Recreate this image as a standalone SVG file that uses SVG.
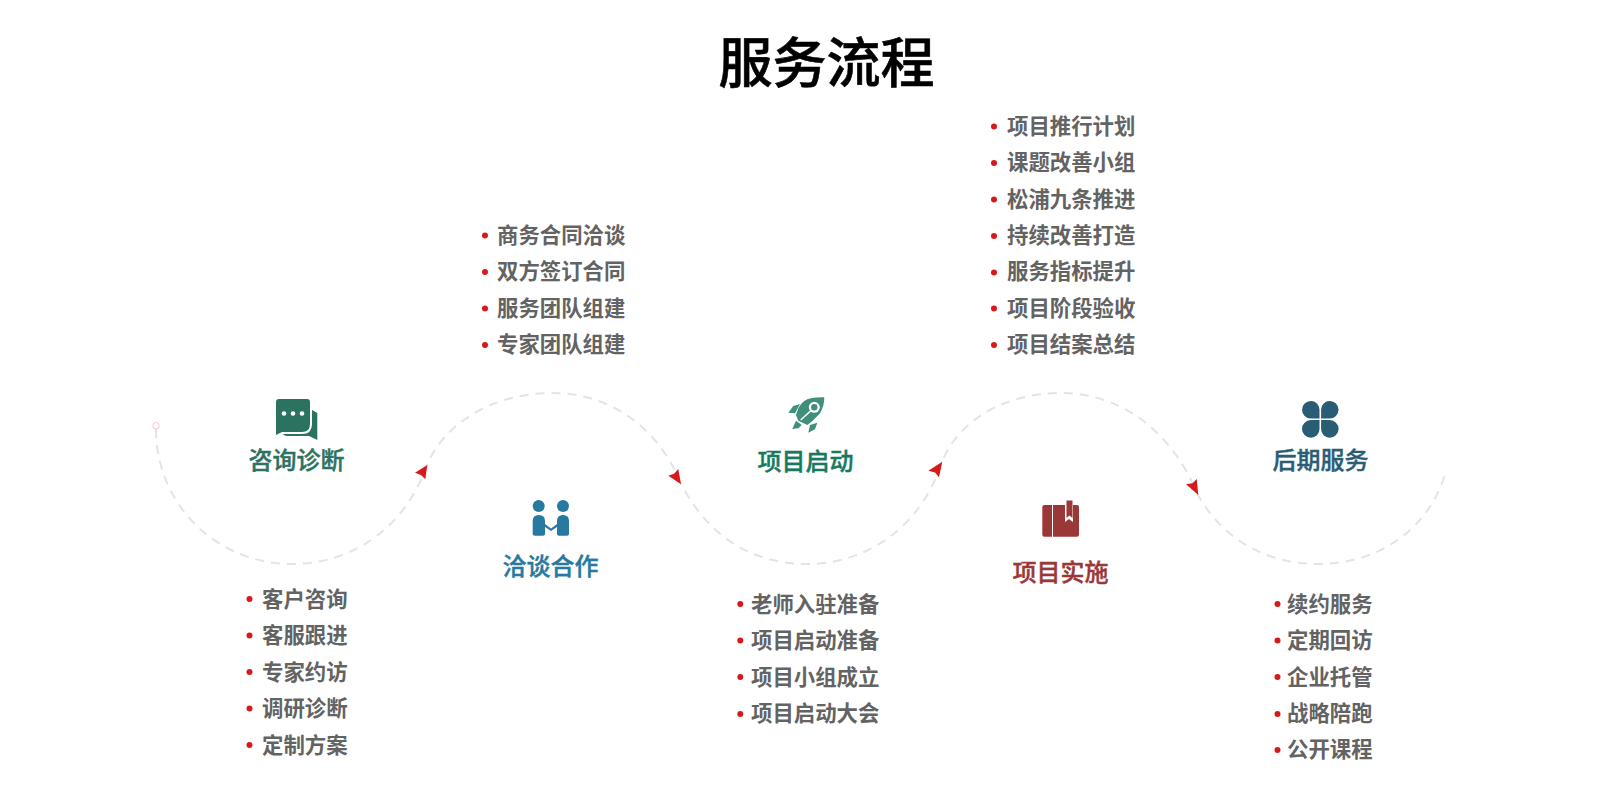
<svg xmlns="http://www.w3.org/2000/svg" width="1600" height="806" viewBox="0 0 1600 806">
<style>
text{font-family:"Noto Sans CJK SC","Noto Sans",sans-serif}
.title{font-size:54px;font-weight:500;fill:#000;stroke:#000;stroke-width:.6;text-anchor:middle}
.head{font-size:24px;font-weight:500;stroke-width:.4;text-anchor:middle}
.item{font-size:21.400px;font-weight:700;fill:#636363}
.dot{fill:#d7191c}
.wave{fill:none;stroke:#e4e4e4;stroke-width:2;stroke-dasharray:9 7}
.arrow{fill:#d7191c}
</style>
<rect width="1600" height="806" fill="#fff"/>
<text class="title" x="826.500" y="83">服务流程</text>
<g id="connectors">
<path class="wave" d="M156 429C156 505 217 564 292 564C352 564 405 528 427 465C445 422 495 393 552 393C612 393 660 430 681 484C708 535 750 564 807 564C866 564 920 528 941 464C958 420 1005 393 1061 393C1122 393 1172 432 1198 495C1222 538 1265 564 1318 564C1380 564 1430 528 1446 471"/>
<circle cx="156" cy="425.700" r="3.200" fill="#fff" stroke="#f6c6cc" stroke-width="1"/>
<path class="arrow" d="M427.300 465L415 472.700L421 475L425.300 479.300Z"/>
<path class="arrow" d="M681 484.300L668.300 475.700L674 473.800L678.300 469Z"/>
<path class="arrow" d="M942.300 461.700L928.300 470.700L935 472.500L939 477.300Z"/>
<path class="arrow" d="M1198.300 495L1186 484.300L1192.500 483.200L1196.700 479Z"/>
</g>
<g id="node1">
<path fill="#2c7261" d="M279 399H307Q310 399 310 402V424Q310 432 302 432H282L276 435V402Q276 399 279 399Z"/>
<path fill="#2c7261" d="M312 410L317.300 413V440L309 436H289Q284 436 283 434H302Q312 434 312 424Z"/>
<circle cx="284" cy="413.500" r="2.300" fill="#fff"/>
<circle cx="293" cy="413.500" r="2.300" fill="#fff"/>
<circle cx="302" cy="413.500" r="2.300" fill="#fff"/>
<text class="head" x="296.500" y="469" fill="#2c7261" stroke="#2c7261">咨询诊断</text>
<circle class="dot" cx="249.500" cy="599" r="3"/><text class="item" x="262" y="606.500">客户咨询</text>
<circle class="dot" cx="249.500" cy="635.500" r="3"/><text class="item" x="262" y="643">客服跟进</text>
<circle class="dot" cx="249.500" cy="672" r="3"/><text class="item" x="262" y="679.500">专家约访</text>
<circle class="dot" cx="249.500" cy="708.500" r="3"/><text class="item" x="262" y="716">调研诊断</text>
<circle class="dot" cx="249.500" cy="745" r="3"/><text class="item" x="262" y="752.500">定制方案</text>
</g>
<g id="node2">
<circle cx="538.700" cy="506" r="6" fill="#28799f"/>
<circle cx="563" cy="506" r="6" fill="#28799f"/>
<path fill="#28799f" d="M532.700 534V521Q532.700 515 538.700 515Q545 515 545 521V524L551 528.500L557 524V521Q557 515 563 515Q569 515 569 521V534Q569 535.700 567 535.700H559Q557 535.700 557 534V527L551 531L545 527V534Q545 535.700 543 535.700H535Q532.700 535.700 532.700 534Z"/>
<text class="head" x="550.500" y="575" fill="#28799f" stroke="#28799f">洽谈合作</text>
<circle class="dot" cx="485" cy="235.500" r="3"/><text class="item" x="497" y="242.700">商务合同洽谈</text>
<circle class="dot" cx="485" cy="272" r="3"/><text class="item" x="497" y="279">双方签订合同</text>
<circle class="dot" cx="485" cy="308.500" r="3"/><text class="item" x="497" y="315.500">服务团队组建</text>
<circle class="dot" cx="485" cy="345" r="3"/><text class="item" x="497" y="352">专家团队组建</text>
</g>
<g id="node3">
<path fill="#3f8f7c" d="M824.300 397.300C816 397.300 811 398 807.300 399.300C803 401 800 405 798.300 408.300L796 415L798.300 420.700L807.300 425L812.700 420.700L820 413.300C823 408 824.300 403 824.300 397.300Z"/>
<circle cx="814.300" cy="407.300" r="5.500" fill="#fff"/>
<circle cx="814.300" cy="407.300" r="3.200" fill="#3f8f7c"/>
<path d="M810.500 411L800.700 420" stroke="#fff" stroke-width="1.500"/>
<path fill="#3f8f7c" d="M788.300 412.700L793.300 406L800 404L795 413.300ZM808.300 432.700L810 425L817.300 422.700L815 429.300ZM792.300 429L796 420.700L801.700 425L798.300 428.300Z"/>
<text class="head" x="805.500" y="470" fill="#17795f" stroke="#17795f">项目启动</text>
<circle class="dot" cx="740.300" cy="604" r="3"/><text class="item" x="751" y="611.800">老师入驻准备</text>
<circle class="dot" cx="740.300" cy="640.500" r="3"/><text class="item" x="751" y="648.300">项目启动准备</text>
<circle class="dot" cx="740.300" cy="677" r="3"/><text class="item" x="751" y="684.500">项目小组成立</text>
<circle class="dot" cx="740.300" cy="714" r="3"/><text class="item" x="751" y="721.200">项目启动大会</text>
</g>
<g id="node4">
<path fill="#9a3838" d="M1044.300 505H1052V536.700H1044.300Q1042.300 536.700 1042.300 534.700V507Q1042.300 505 1044.300 505Z"/>
<path fill="#9a3838" d="M1053 505H1065V522L1069 519L1073 522V505H1077Q1079 505 1079 507V534.700Q1079 536.700 1077 536.700H1053Z"/>
<path fill="#9a3838" d="M1066.500 500.500H1072.500V518L1069.500 515.500L1066.500 518Z"/>
<text class="head" x="1060.500" y="580.500" fill="#9a3838" stroke="#9a3838">项目实施</text>
<circle class="dot" cx="994" cy="126.500" r="3"/><text class="item" x="1007" y="133.500">项目推行计划</text>
<circle class="dot" cx="994" cy="163" r="3"/><text class="item" x="1007" y="170">课题改善小组</text>
<circle class="dot" cx="994" cy="199.500" r="3"/><text class="item" x="1007" y="206.500">松浦九条推进</text>
<circle class="dot" cx="994" cy="236" r="3"/><text class="item" x="1007" y="243">持续改善打造</text>
<circle class="dot" cx="994" cy="272.500" r="3"/><text class="item" x="1007" y="279.300">服务指标提升</text>
<circle class="dot" cx="994" cy="308.500" r="3"/><text class="item" x="1007" y="315.500">项目阶段验收</text>
<circle class="dot" cx="994" cy="345" r="3"/><text class="item" x="1007" y="352">项目结案总结</text>
</g>
<g id="node5">
<path fill="#2a5d75" d="M1310.800 401A8.500 8.500 0 0 1 1319.500 409.500V418.500H1310.800A8.750 8.750 0 0 1 1310.800 401ZM1329.800 401A8.500 8.500 0 0 0 1321.100 409.500V418.500H1329.800A8.750 8.750 0 0 0 1329.800 401ZM1310.800 437.700A8.500 8.500 0 0 0 1319.500 429V420.100H1310.800A8.800 8.800 0 0 0 1310.800 437.700ZM1329.800 437.700A8.500 8.500 0 0 1 1321.100 429V420.100H1329.800A8.800 8.800 0 0 1 1329.800 437.700Z"/>
<text class="head" x="1320.500" y="469" fill="#2a5d75" stroke="#2a5d75">后期服务</text>
<circle class="dot" cx="1277.500" cy="604" r="3"/><text class="item" x="1287" y="611.800">续约服务</text>
<circle class="dot" cx="1277.500" cy="640.500" r="3"/><text class="item" x="1287" y="648.300">定期回访</text>
<circle class="dot" cx="1277.500" cy="677" r="3"/><text class="item" x="1287" y="684.500">企业托管</text>
<circle class="dot" cx="1277.500" cy="714" r="3"/><text class="item" x="1287" y="721.200">战略陪跑</text>
<circle class="dot" cx="1277.500" cy="750" r="3"/><text class="item" x="1287" y="757.200">公开课程</text>
</g>
</svg>
